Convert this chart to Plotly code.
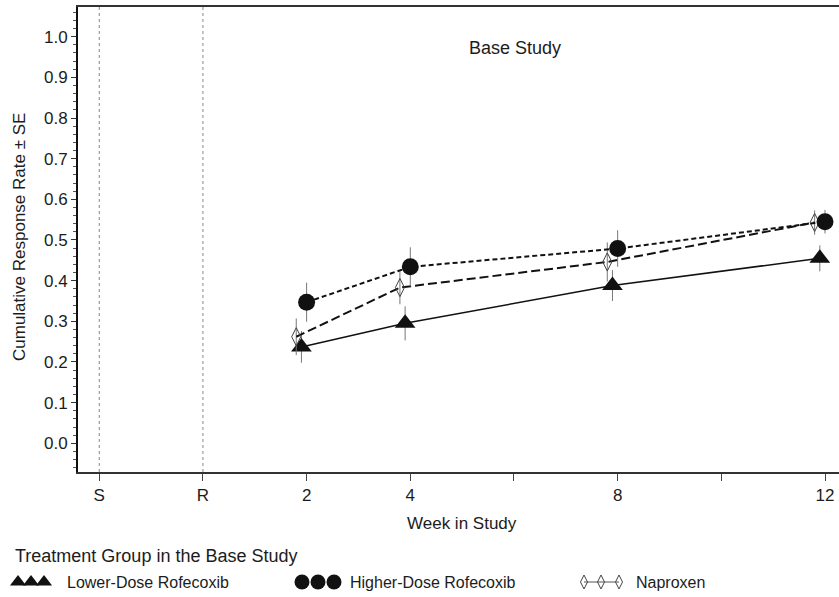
import plotly.graph_objects as go

# ---------------- data ----------------
weeks = [2, 4, 8, 12]
lower_dose = [0.237, 0.295, 0.388, 0.455]
lower_dose_se = [0.039, 0.042, 0.038, 0.032]
higher_dose = [0.347, 0.434, 0.479, 0.545]
higher_dose_se = [0.048, 0.048, 0.045, 0.029]
naproxen = [0.262, 0.383, 0.446, 0.543]
naproxen_se = [0.045, 0.041, 0.048, 0.030]

x_tickvals = [-2, 0, 2, 4, 6, 8, 10, 12]
x_ticktext = ["S", "R", "2", "4", "", "8", "", "12"]
y_tickvals = [0.0, 0.1, 0.2, 0.3, 0.4, 0.5, 0.6, 0.7, 0.8, 0.9, 1.0]
y_ticktext = ["0.0", "0.1", "0.2", "0.3", "0.4", "0.5", "0.6", "0.7", "0.8", "0.9", "1.0"]
ref_lines = [-2, 0]  # S and R

series_names = ["Lower-Dose Rofecoxib", "Higher-Dose Rofecoxib", "Naproxen"]
legend_title = "Treatment Group in the Base Study"

# ---------------- style ----------------
W, H = 839, 597
FONT = "Liberation Sans, Arial, Helvetica, sans-serif"
TXT = "#1c1c1c"
INK = "#111111"
ERR = "#777777"

# horizontal jitter (weeks) used by the original plot to separate groups
off_lower, off_higher, off_napro = -0.1, 0.0, -0.2

# plot area in pixels
PL, PR, PT, PB = 78, 839, 7, 472

fig = go.Figure()

def jit(xs, o):
    return [x + o for x in xs]

fig.add_trace(go.Scatter(
    x=jit(weeks, off_lower), y=lower_dose, mode="lines+markers",
    name=series_names[0],
    line=dict(color=INK, width=1.5),
    marker=dict(symbol="triangle-up", size=18, color=INK),
    error_y=dict(type="data", array=lower_dose_se, visible=True, width=0,
                 thickness=1, color=ERR),
))
fig.add_trace(go.Scatter(
    x=jit(weeks, off_napro), y=naproxen, mode="lines+markers",
    name=series_names[2],
    line=dict(color=INK, width=2, dash="9px,4px"),
    marker=dict(symbol="diamond-tall-open", size=13, color="#444444",
                line=dict(width=1, color="#444444")),
    error_y=dict(type="data", array=naproxen_se, visible=True, width=0,
                 thickness=1, color=ERR),
))
fig.add_trace(go.Scatter(
    x=jit(weeks, off_higher), y=higher_dose, mode="lines+markers",
    name=series_names[1],
    line=dict(color=INK, width=2, dash="5px,3px"),
    marker=dict(symbol="circle", size=17, color=INK),
    error_y=dict(type="data", array=higher_dose_se, visible=True, width=0,
                 thickness=1, color=ERR),
))

# reference lines at S and R
for xv in ref_lines:
    fig.add_shape(type="line", xref="x", yref="y domain", x0=xv, x1=xv, y0=0, y1=1,
                  line=dict(color="#888888", width=1, dash="dot"), layer="below")

# ---------------- custom legend glyphs (overlay axes in pixel space) ----------------
LEG_Y = 582
fig.add_trace(go.Scatter(
    x=[18, 31, 44], y=[LEG_Y] * 3, mode="markers", xaxis="x2", yaxis="y2",
    marker=dict(symbol="triangle-up", size=14, color=INK), hoverinfo="skip"))
fig.add_trace(go.Scatter(
    x=[302, 318, 334], y=[LEG_Y] * 3, mode="markers", xaxis="x2", yaxis="y2",
    marker=dict(symbol="circle", size=15, color=INK), hoverinfo="skip"))
fig.add_trace(go.Scatter(
    x=[584, 601, 619], y=[LEG_Y] * 3, mode="lines+markers", xaxis="x2", yaxis="y2",
    line=dict(color="#555555", width=1),
    marker=dict(symbol="diamond-tall-open", size=10, color="#444444",
                line=dict(width=1, color="#444444")), hoverinfo="skip"))

def px(x):
    return x / W

def py(y):
    return (H - y) / H

def note(text, x, y, size, xanchor="center", angle=0):
    return dict(text=text, x=px(x), y=py(y), xref="paper", yref="paper",
                xanchor=xanchor, yanchor="middle", textangle=angle, showarrow=False,
                font=dict(size=size, color=TXT, family=FONT))

ann = [
    note("Base Study", 515, 48, 18),
    note("Cumulative Response Rate ± SE", 19, 237, 17, angle=-90),
    note("Week in Study", 462, 523, 17),
    note(legend_title, 13, 556, 18, xanchor="left"),
]
for name, xl in zip(series_names, [65, 348, 634]):
    ann.append(note(name, xl, LEG_Y, 16, xanchor="left"))

fig.update_layout(
    width=W, height=H,
    template="none",
    paper_bgcolor="white", plot_bgcolor="rgba(0,0,0,0)",
    margin=dict(l=0, r=0, t=0, b=0, pad=0),
    showlegend=False,
    font=dict(family=FONT, color=TXT, size=17),
    annotations=ann,
    xaxis=dict(
        domain=[PL / W, PR / W], anchor="y",
        range=[-2.41, 12.27],
        tickmode="array", tickvals=x_tickvals, ticktext=x_ticktext,
        ticks="outside", ticklen=7, tickwidth=1, tickcolor="#444444",
        showline=True, linecolor="#333333", linewidth=2, mirror=True,
        showgrid=False, zeroline=False, automargin=False,
        tickfont=dict(size=17, color=TXT, family=FONT),
    ),
    yaxis=dict(
        domain=[(H - PB) / H, (H - PT) / H], anchor="x",
        range=[-0.0706, 1.073],
        tickmode="array", tickvals=y_tickvals, ticktext=y_ticktext,
        ticks="outside", ticklen=5, tickwidth=1, tickcolor="#333333",
        minor=dict(dtick=0.02, tick0=0, ticks="outside", ticklen=3,
                   tickcolor="#555555", tickwidth=1, showgrid=False),
        showline=True, linecolor="#111111", linewidth=2,
        showgrid=False, zeroline=False, automargin=False,
        tickfont=dict(size=17, color=TXT, family=FONT),
    ),
    xaxis2=dict(domain=[0, 1], anchor="y2", range=[0, W], visible=False,
                fixedrange=True),
    yaxis2=dict(domain=[0, 1], anchor="x2", range=[H, 0], visible=False,
                fixedrange=True),
)

fig.write_html(
    "out.html",
    config={"displayModeBar": False},
    post_script="document.body.style.margin='0';document.body.style.overflow='hidden';",
)
